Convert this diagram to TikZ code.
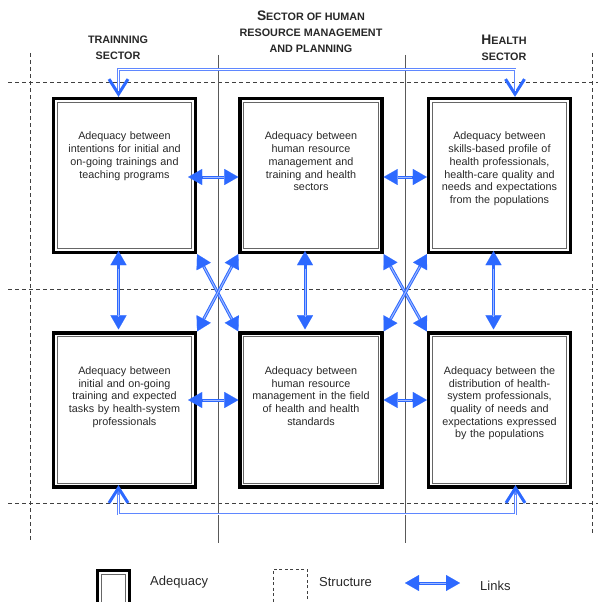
\documentclass[tikz,border=0pt]{standalone}
\usepackage{fontspec}
\setmainfont{Liberation Sans}
\usepackage{tikz}
\usetikzlibrary{calc}
\usetikzlibrary{arrows.meta}

\definecolor{linkblue}{RGB}{45,105,255}
\definecolor{wireblue}{RGB}{95,135,255}
\definecolor{linkfill}{RGB}{160,185,255}
\definecolor{inkgray}{RGB}{40,40,40}

\newcommand{\initcap}[1]{{\fontsize{13.8}{16}\selectfont #1}}

\begin{document}
\begin{tikzpicture}[x=1pt, y=-1pt,
    adq/.style={draw=black, line width=3.2pt, minimum width=142pt, minimum height=154pt, inner sep=0pt,
        path picture={\draw[line width=0.9pt, black!60]
            ([shift={(3.8pt,-3.8pt)}]path picture bounding box.north west) rectangle
            ([shift={(-3.8pt,3.8pt)}]path picture bounding box.south east);}},
    adqtext/.style={anchor=north, align=center, text width=136pt, inner sep=0pt, text=inkgray,
        font=\fontsize{10.8}{12.7}\selectfont},
    head/.style={align=center, text=inkgray, font=\bfseries\fontsize{10.8}{16}\selectfont},
    legend/.style={anchor=west, inner sep=0pt, text=inkgray, font=\fontsize{13}{15}\selectfont},
    grid/.style={black!75, line width=0.7pt, dash pattern=on 4pt off 3pt},
    sector/.style={black!65, line width=0.8pt},
    link/.style={linkblue, line width=3pt,
        {Triangle[length=14pt,width=16pt,line width=0.1pt]}-{Triangle[length=14pt,width=16pt,line width=0.1pt]},
        postaction={draw=linkfill, line width=1pt, arrows=-, shorten <=14.5pt, shorten >=14.5pt}},
    wire/.style={wireblue, line width=2.6pt,
        {Straight Barb[length=15pt,width=19pt,line width=3pt,color=linkblue]}-{Straight Barb[length=15pt,width=19pt,line width=3pt,color=linkblue]},
        postaction={draw=white, line width=0.9pt, arrows=-, shorten <=6pt, shorten >=6pt}}]

    % Picture frame
    \path[use as bounding box, clip] (0,0) rectangle (598,602);

    % Draw sector borders
    \draw[grid] (8,82) -- (598,82);
    \draw[grid] (8,289) -- (598,289);
    \draw[grid] (8,503) -- (598,503);
    \draw[grid] (30.5,53) -- (30.5,542);
    \draw[grid] (592.5,53) -- (592.5,535);
    \draw[sector] (218,55) -- (218,543);
    \draw[sector] (405,55) -- (405,543);

    % Sector titles
    \node[head] (hTrain) at (118,48) {TRAINNING\\SECTOR};
    \node[head] (hHrm) at (311,32) {\initcap{S}ECTOR OF HUMAN\\RESOURCE MANAGEMENT\\AND PLANNING};
    \node[head] (hHealth) at (504,48) {\initcap{H}EALTH\\SECTOR};

    % Draw adequacy boxes
    \node[adq] (TL) at (124.5,175.5) {};
    \node[adq] (TM) at (311,175.5) {};
    \node[adq] (TR) at (499.5,175.5) {};
    \node[adq] (BL) at (124.5,410) {};
    \node[adq] (BM) at (311,410) {};
    \node[adq] (BR) at (499.5,410) {};

    \node[adqtext] (TLt) at ($(TL.north)+(0,35)$) {Adequacy between\\intentions for initial and\\on-going trainings and\\teaching programs};
    \node[adqtext] (TMt) at ($(TM.north)+(0,35)$) {Adequacy between\\human resource\\management and\\training and health\\sectors};
    \node[adqtext] (TRt) at ($(TR.north)+(0,35)$) {Adequacy between\\skills-based profile of\\health professionals,\\health-care quality and\\needs and expectations\\from the populations};
    \node[adqtext] (BLt) at ($(BL.north)+(0,35)$) {Adequacy between\\initial and on-going\\training and expected\\tasks by health-system\\professionals};
    \node[adqtext] (BMt) at ($(BM.north)+(0,35)$) {Adequacy between\\human resource\\management in the field\\of health and health\\standards};
    \node[adqtext] (BRt) at ($(BR.north)+(0,35)$) {Adequacy between the\\distribution of health-\\system professionals,\\quality of needs and\\expectations expressed\\by the populations};

    % Draw links between boxes
    \draw[link] ([xshift=-9pt,yshift=-1.5pt]TL.east) -- ([yshift=-1.5pt]TM.west);
    \draw[link] ([yshift=-1.5pt]TM.east) -- ([yshift=-1.5pt]TR.west);
    \draw[link] ([xshift=-9pt,yshift=10pt]BL.east) -- ([yshift=10pt]BM.west);
    \draw[link] ([yshift=10pt]BM.east) -- ([yshift=10pt]BR.west);

    \draw[link, shorten <=-3pt, shorten >=2pt] ([xshift=-6pt]TL.south) -- ([xshift=-6pt]BL.north);
    \draw[link, shorten <=-3pt, shorten >=2pt] ([xshift=-6pt]TM.south) -- ([xshift=-6pt]BM.north);
    \draw[link, shorten <=-3pt, shorten >=2pt] ([xshift=-6pt]TR.south) -- ([xshift=-6pt]BR.north);

    \draw[link] (TL.south east) -- (BM.north west);
    \draw[link] (TM.south west) -- (BL.north east);
    \draw[link] (TM.south east) -- (BR.north west);
    \draw[link] (TR.south west) -- (BM.north east);

    % Long links between training and health sectors
    \draw[wire] ([xshift=-6pt]TL.north) -- ++(0,-27.5) -| ([xshift=15.5pt]TR.north);
    \draw[wire, shorten <=-3.5pt, shorten >=-3.5pt] ([xshift=-6pt]BL.south) -- ++(0,25.5) -| ([xshift=16pt]BR.south);

    % Legend
    \node[adq, minimum width=32pt, minimum height=40pt] (lgAdq) at (113.5,590.5) {};
    \node[legend] (lgAdqT) at (150,582) {Adequacy};
    \node[draw, black!75, line width=0.7pt, dash pattern=on 3pt off 2.5pt,
        minimum width=34pt, minimum height=40pt] (lgStr) at (290,589) {};
    \node[legend] (lgStrT) at (319,582) {Structure};
    \coordinate (lgL) at (405,583);
    \coordinate (lgR) at (460,583);
    \draw[link] (lgL) -- (lgR);
    \node[legend] (lgLnkT) at (480,586) {Links};

\end{tikzpicture}
\end{document}
